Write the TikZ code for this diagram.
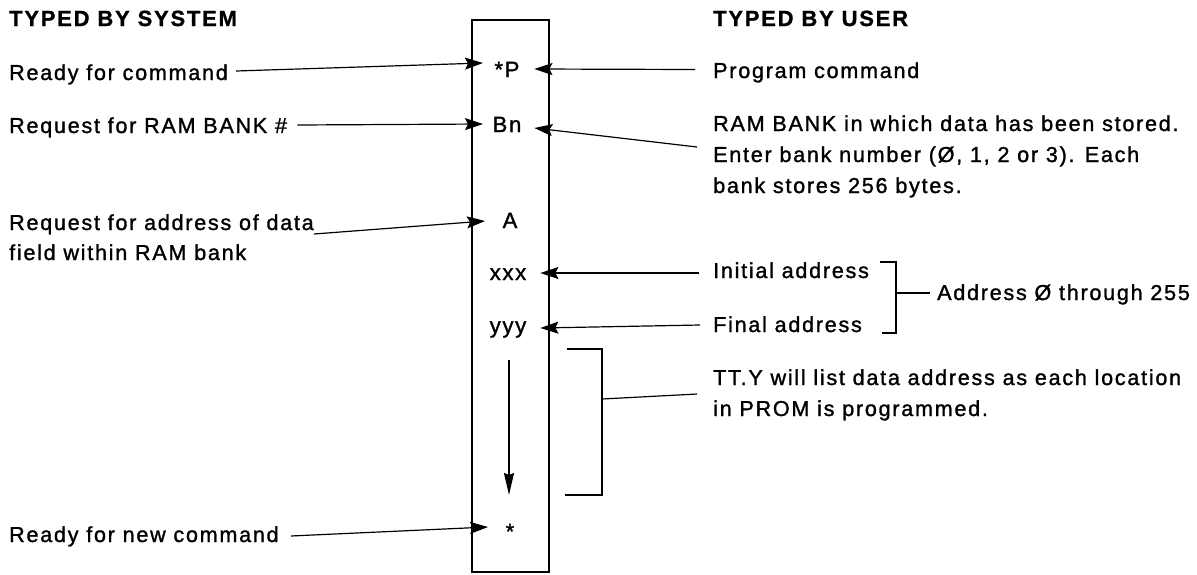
\documentclass[tikz,border=0pt]{standalone}
\usepackage{fontspec}
\setmainfont{Liberation Sans}[LetterSpace=8, FakeBold=1.3, BoldFeatures={FakeBold=1.0}]
\usetikzlibrary{arrows.meta,calc}
\begin{document}
\begin{tikzpicture}[x=1pt,y=-1pt,
  txt/.style={inner sep=0pt, anchor=base west, font=\fontsize{21.6}{31}\selectfont},
  head/.style={inner sep=0pt, anchor=base west, font=\fontsize{22}{31}\selectfont\bfseries},
  item/.style={inner sep=0pt, anchor=base, font=\fontsize{22}{31}\selectfont},
  colbox/.style={draw, line width=2.4pt, inner sep=0pt, minimum width=77pt, minimum height=552pt, anchor=north west},
  arr/.style={line width=1.2pt, -{Stealth[length=18pt,width=12pt,inset=3pt]}},
  darr/.style={line width=1.8pt, -{Stealth[length=22pt,width=10pt,inset=2pt]}},
  brk/.style={line width=1.9pt},
]
\useasboundingbox (0,0) rectangle (1197,574);
\node[colbox] (col) at (471,19) {};

% headings
\node[head] (hs) at (9,26) {TYPED BY SYSTEM};
\node[head] (hu) at (713,26) {TYPED BY USER};

% items in the column
\node[item] (p)  at (507,77)  {*P};
\node[item] (bn) at (507,132) {Bn};
\node[item] (a)  at (510,228) {A};
\node[item] (x)  at (508,280) {xxx};
\node[item] (yy) at (508,333) {yyy};
\node[item] (st) at (510,539) {*};

% left texts
\node[txt] (rc) at (9,80)  {Ready for command};
\node[txt] (rb) at (9,133) {Request for RAM BANK \#};
\node[txt] (ra) at (9,230) {\fontsize{21.6}{30}\selectfont\begin{tabular}[t]{@{}l@{}}Request for address of data\\ field within RAM bank\end{tabular}};
\node[txt] (rn) at (9,542) {Ready for new command};

% right texts
\node[txt] (pc)  at (713,78)  {Program command};
\node[txt] (rbk) at (713,131) {\begin{tabular}[t]{@{}l@{}}RAM BANK in which data has been stored.\\ Enter bank number (Ø, 1, 2 or 3). Each\\ bank stores 256 bytes.\end{tabular}};
\node[txt] (ia)  at (713,278) {Initial address};
\node[txt] (fa)  at (713,332) {Final address};
\node[txt] (ad)  at (937,300) {Address Ø through 255};
\node[txt] (tty) at (713,385) {\begin{tabular}[t]{@{}l@{}}TT.Y will list data address as each location\\ in PROM is programmed.\end{tabular}};

% left arrows
\draw[arr] ($(rc.base east)+(8,-9)$) -- ($(col.west |- p.base)+(12,-14)$);
\draw[arr] ($(rb.base east)+(10,-8)$) -- ($(col.west |- bn.base)+(12,-8)$);
\draw[arr] ($(ra.base east)+(0,4)$) -- ($(col.west |- a.base)+(14,-7)$);
\draw[arr] ($(rn.base east)+(12,-6)$) -- ($(col.west |- st.base)+(17,-12)$);

% right arrows
\draw[arr] ($(pc.base west)+(-18,-8.5)$) -- ($(col.east |- p.base)+(-16,-8)$);
\draw[arr] ($(rbk.base west)+(-16,16)$) -- ($(col.east |- bn.base)+(-16,-4)$);
\draw[arr] ($(ia.base west)+(-14,-5)$) -- ($(col.east |- x.base)+(-10,-7)$);
\draw[arr] ($(fa.base west)+(-13,-7)$) -- ($(col.east |- yy.base)+(-10,-5)$);

% down arrow in column
\draw[darr] ($(yy.base)+(1,27)$) -- ($(st.base)+(-1,-44)$);

% address bracket
\draw[brk] (880,262) -- (896,262) -- (896,333) -- (882,333);
\coordinate (bm) at (896,293);
\draw[brk] (bm) -- ($(ad.base west)+(-7,-7)$);

% TTY bracket
\draw[brk] (567,349) -- (602,349) -- (602,495) -- (565,495);
\coordinate (tm) at (602,399);
\draw[line width=1.2pt] (tm) -- ($(tty.base west)+(-16,9)$);
\end{tikzpicture}
\end{document}
